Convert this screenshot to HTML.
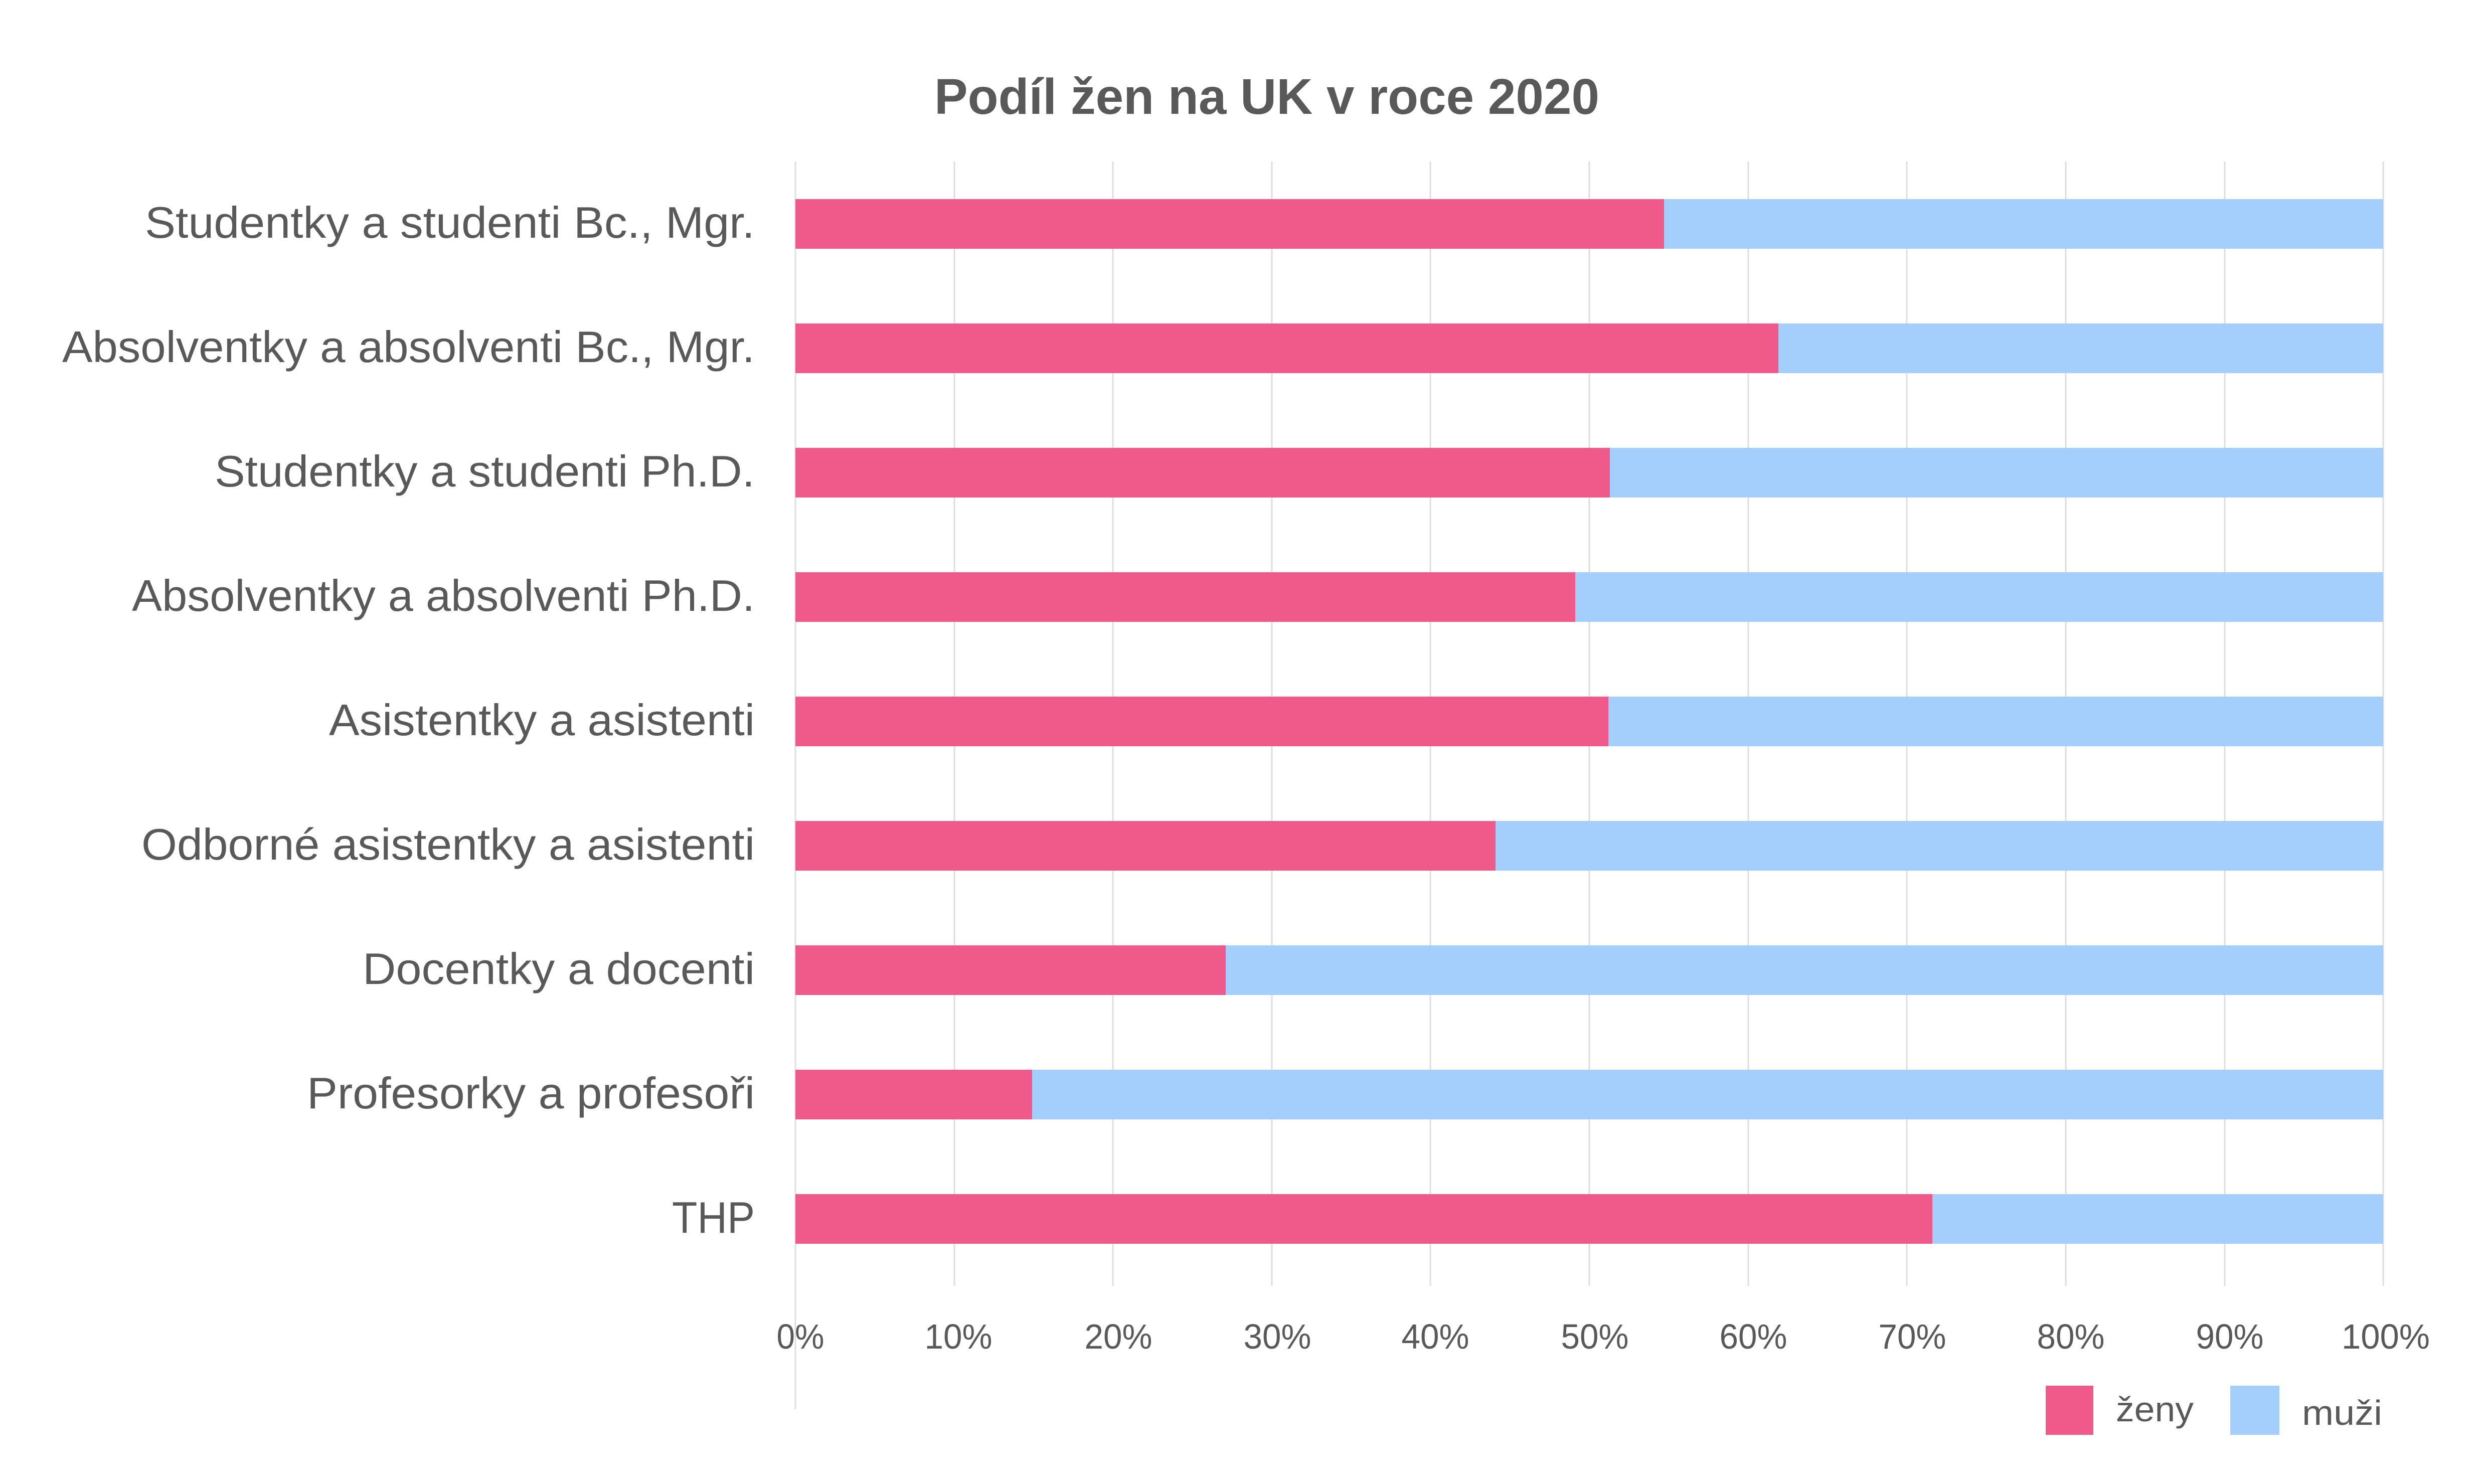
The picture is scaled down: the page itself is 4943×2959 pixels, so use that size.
<!DOCTYPE html>
<html><head><meta charset="utf-8"><style>html,body{margin:0;padding:0;background:#fff}svg{display:block}</style></head>
<body>
<svg width="4943" height="2959" xmlns="http://www.w3.org/2000/svg" font-family="Liberation Sans, sans-serif" fill="#595959">
<rect width="4943" height="2959" fill="#fff"/>
<text x="2526" y="227" font-size="100" font-weight="bold" text-anchor="middle" textLength="1326" lengthAdjust="spacingAndGlyphs">Podíl žen na UK v roce 2020</text>
<g stroke="#dedede" stroke-width="3">
<line x1="1586" y1="322" x2="1586" y2="2810"/>
<line x1="1903" y1="322" x2="1903" y2="2564"/>
<line x1="2219" y1="322" x2="2219" y2="2564"/>
<line x1="2536" y1="322" x2="2536" y2="2564"/>
<line x1="2852" y1="322" x2="2852" y2="2564"/>
<line x1="3169" y1="322" x2="3169" y2="2564"/>
<line x1="3486" y1="322" x2="3486" y2="2564"/>
<line x1="3802" y1="322" x2="3802" y2="2564"/>
<line x1="4119" y1="322" x2="4119" y2="2564"/>
<line x1="4436" y1="322" x2="4436" y2="2564"/>
<line x1="4752" y1="322" x2="4752" y2="2564"/>
</g>
<g>
<rect x="1586" y="397" width="3166" height="99" fill="#A4CEFB"/><rect x="1586" y="397" width="1732" height="99" fill="#EF5A8A"/>
<rect x="1586" y="645" width="3166" height="99" fill="#A4CEFB"/><rect x="1586" y="645" width="1960" height="99" fill="#EF5A8A"/>
<rect x="1586" y="893" width="3166" height="99" fill="#A4CEFB"/><rect x="1586" y="893" width="1624" height="99" fill="#EF5A8A"/>
<rect x="1586" y="1141" width="3166" height="99" fill="#A4CEFB"/><rect x="1586" y="1141" width="1555" height="99" fill="#EF5A8A"/>
<rect x="1586" y="1389" width="3166" height="99" fill="#A4CEFB"/><rect x="1586" y="1389" width="1621" height="99" fill="#EF5A8A"/>
<rect x="1586" y="1637" width="3166" height="99" fill="#A4CEFB"/><rect x="1586" y="1637" width="1396" height="99" fill="#EF5A8A"/>
<rect x="1586" y="1885" width="3166" height="99" fill="#A4CEFB"/><rect x="1586" y="1885" width="858" height="99" fill="#EF5A8A"/>
<rect x="1586" y="2133" width="3166" height="99" fill="#A4CEFB"/><rect x="1586" y="2133" width="472" height="99" fill="#EF5A8A"/>
<rect x="1586" y="2381" width="3166" height="99" fill="#A4CEFB"/><rect x="1586" y="2381" width="2267" height="99" fill="#EF5A8A"/>
</g>
<g font-size="88" text-anchor="end">
<text x="1505" y="474" textLength="1216" lengthAdjust="spacingAndGlyphs">Studentky a studenti Bc., Mgr.</text>
<text x="1505" y="722" textLength="1381" lengthAdjust="spacingAndGlyphs">Absolventky a absolventi Bc., Mgr.</text>
<text x="1505" y="970" textLength="1077" lengthAdjust="spacingAndGlyphs">Studentky a studenti Ph.D.</text>
<text x="1505" y="1218" textLength="1242" lengthAdjust="spacingAndGlyphs">Absolventky a absolventi Ph.D.</text>
<text x="1505" y="1466" textLength="849" lengthAdjust="spacingAndGlyphs">Asistentky a asistenti</text>
<text x="1505" y="1714" textLength="1223" lengthAdjust="spacingAndGlyphs">Odborné asistentky a asistenti</text>
<text x="1505" y="1962" textLength="782" lengthAdjust="spacingAndGlyphs">Docentky a docenti</text>
<text x="1505" y="2210" textLength="893" lengthAdjust="spacingAndGlyphs">Profesorky a profesoři</text>
<text x="1505" y="2458" textLength="165" lengthAdjust="spacingAndGlyphs">THP</text>
</g>
<g font-size="70" text-anchor="middle">
<text x="1596" y="2689" textLength="95" lengthAdjust="spacingAndGlyphs">0%</text>
<text x="1911" y="2689" textLength="135" lengthAdjust="spacingAndGlyphs">10%</text>
<text x="2230" y="2689" textLength="135" lengthAdjust="spacingAndGlyphs">20%</text>
<text x="2547" y="2689" textLength="135" lengthAdjust="spacingAndGlyphs">30%</text>
<text x="2862" y="2689" textLength="135" lengthAdjust="spacingAndGlyphs">40%</text>
<text x="3180" y="2689" textLength="135" lengthAdjust="spacingAndGlyphs">50%</text>
<text x="3496" y="2689" textLength="135" lengthAdjust="spacingAndGlyphs">60%</text>
<text x="3813" y="2689" textLength="135" lengthAdjust="spacingAndGlyphs">70%</text>
<text x="4129" y="2689" textLength="135" lengthAdjust="spacingAndGlyphs">80%</text>
<text x="4446" y="2689" textLength="135" lengthAdjust="spacingAndGlyphs">90%</text>
<text x="4757" y="2689" textLength="176" lengthAdjust="spacingAndGlyphs">100%</text>
</g>
<rect x="4079" y="2763" width="95" height="98" fill="#EF5A8A"/>
<rect x="4447" y="2763" width="98" height="98" fill="#A4CEFB"/>
<text x="4219" y="2834" font-size="70" textLength="155" lengthAdjust="spacingAndGlyphs">ženy</text>
<text x="4590" y="2841" font-size="70" textLength="160" lengthAdjust="spacingAndGlyphs">muži</text>
</svg>
</body></html>
